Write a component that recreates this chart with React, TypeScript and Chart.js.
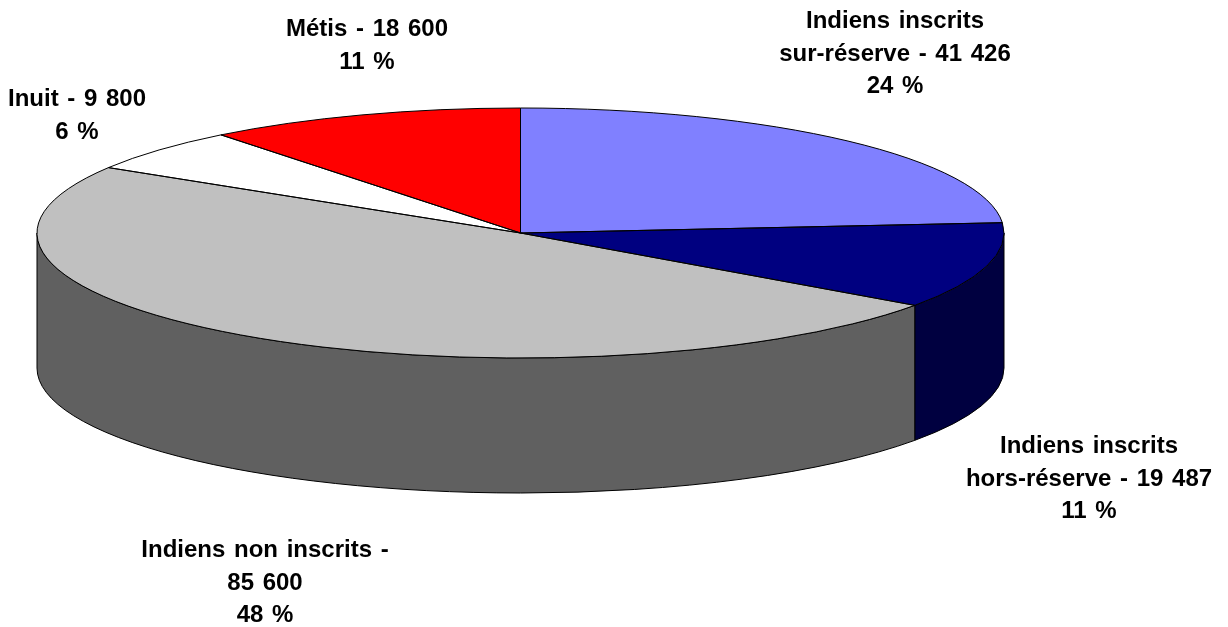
import React, { useEffect, useRef } from "react";
import { Chart, registerables } from "chart.js";

Chart.register(...registerables);

const categories = [
  "Indiens inscrits sur-réserve",
  "Indiens inscrits hors-réserve",
  "Indiens non inscrits",
  "Inuit",
  "Métis",
];
const populationValues = [41426, 19487, 85600, 9800, 18600];
const topColors = ["#8080FF", "#000080", "#C0C0C0", "#FFFFFF", "#FF0000"];
const wallColors = ["#404080", "#000040", "#606060", "#808080", "#800000"];
const labelLines = [
  ["Indiens inscrits", "sur-réserve - 41 426", "24 %"],
  ["Indiens inscrits", "hors-réserve - 19 487", "11 %"],
  ["Indiens non inscrits -", "85 600", "48 %"],
  ["Inuit - 9 800", "6 %"],
  ["Métis - 18 600", "11 %"],
];
const labelCentersX = [895, 1089, 265, 77, 367];
const labelFirstBaselines = [28, 453, 557, 106, 36];

const CX = 520.5;
const CY = 233;
const RX = 483.5;
const RY = 125;
const DEPTH = 135;
const LINE_HEIGHT = 32.5;

const tiltedPie = {
  id: "tiltedPie",
  beforeDatasetsDraw(chart: any) {
    const ctx = chart.ctx;
    const arcs = chart.getDatasetMeta(0).data;
    ctx.save();
    ctx.lineWidth = 1;
    ctx.strokeStyle = "#000";
    arcs.forEach((arc: any, i: number) => {
      const a0 = Math.max(arc.startAngle, 0);
      const a1 = Math.min(arc.endAngle, Math.PI);
      if (a1 <= a0) return;
      ctx.beginPath();
      ctx.ellipse(CX, CY, RX, RY, 0, a0, a1);
      ctx.lineTo(CX + RX * Math.cos(a1), CY + RY * Math.sin(a1) + DEPTH);
      ctx.ellipse(CX, CY + DEPTH, RX, RY, 0, a1, a0, true);
      ctx.closePath();
      ctx.fillStyle = wallColors[i];
      ctx.fill();
      ctx.stroke();
    });
    ctx.restore();

    const first = arcs[0];
    const R = first.outerRadius;
    ctx.save();
    ctx.translate(CX, CY);
    ctx.scale(RX / R, RY / R);
    ctx.translate(-first.x, -first.y);
  },
  afterDatasetsDraw(chart: any) {
    const ctx = chart.ctx;
    ctx.restore();
    const arcs = chart.getDatasetMeta(0).data;
    ctx.save();
    ctx.lineWidth = 1;
    ctx.strokeStyle = "#000";
    arcs.forEach((arc: any) => {
      ctx.beginPath();
      ctx.moveTo(CX, CY);
      ctx.ellipse(CX, CY, RX, RY, 0, arc.startAngle, arc.endAngle);
      ctx.closePath();
      ctx.stroke();
    });
    ctx.fillStyle = "#000";
    ctx.font = 'bold 24px "Liberation Sans", Arial, sans-serif';
    ctx.textAlign = "center";
    ctx.textBaseline = "alphabetic";
    ctx.wordSpacing = "2px";
    labelLines.forEach((lines, i) => {
      lines.forEach((line, j) => {
        ctx.fillText(line, labelCentersX[i], labelFirstBaselines[i] + j * LINE_HEIGHT);
      });
    });
    ctx.restore();
  },
};

export default function App() {
  const ref = useRef<HTMLCanvasElement>(null);
  useEffect(() => {
    if (!ref.current) return;
    const chart = new Chart(ref.current, {
      type: "pie",
      data: {
        labels: categories,
        datasets: [
          {
            data: populationValues,
            backgroundColor: topColors,
            borderWidth: 0,
            clip: false,
          } as any,
        ],
      },
      options: {
        responsive: false,
        animation: false,
        events: [],
        plugins: { legend: { display: false }, tooltip: { enabled: false } },
      },
      plugins: [tiltedPie],
    });
    return () => chart.destroy();
  }, []);
  return (
    <canvas
      ref={ref}
      width={1228}
      height={627}
      style={{ position: "absolute", left: 0, top: 0, display: "block" }}
    />
  );
}
